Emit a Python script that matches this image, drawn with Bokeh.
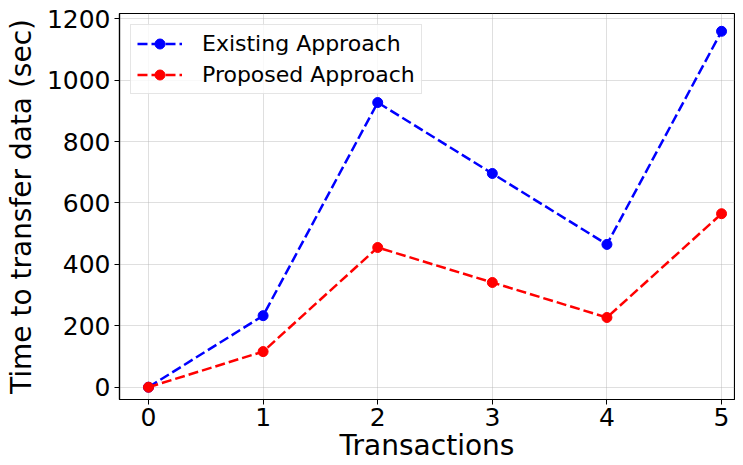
from bokeh.plotting import figure
from bokeh.models import Range1d, FixedTicker
from bokeh.embed import file_html
from bokeh.resources import INLINE

transactions = [0, 1, 2, 3, 4, 5]
existing = [0, 233, 927, 696, 465, 1159]
proposed = [0, 116, 455, 341, 227, 565]
x_ticks = [0, 1, 2, 3, 4, 5]
y_ticks = [0, 200, 400, 600, 800, 1000, 1200]

FONT = "DejaVu Sans"

p = figure(output_backend="svg", toolbar_location=None,
           frame_width=615, frame_height=386,
           min_border_left=119, min_border_right=1, min_border_top=13, min_border_bottom=58,
           x_range=Range1d(-0.253, 5.113), y_range=Range1d(-40, 1217))
p.width = 735
p.height = 457

p.line(transactions, existing, line_color="blue", line_width=2.5, line_dash="10 4",
       legend_label="Existing Approach")
p.scatter(transactions, existing, marker="circle", size=10, fill_color="blue",
          line_color="blue", legend_label="Existing Approach")
p.line(transactions, proposed, line_color="red", line_width=2.5, line_dash="10 4",
       legend_label="Proposed Approach")
p.scatter(transactions, proposed, marker="circle", size=10, fill_color="red",
          line_color="red", legend_label="Proposed Approach")

p.xaxis.ticker = FixedTicker(ticks=x_ticks)
p.yaxis.ticker = FixedTicker(ticks=y_ticks)
for ax in (p.xaxis[0], p.yaxis[0]):
    ax.major_label_text_font = FONT
    ax.major_label_text_font_size = "25px"
    ax.major_label_text_color = "black"
    ax.axis_label_text_font = FONT
    ax.axis_label_text_font_size = "28px"
    ax.axis_label_text_font_style = "normal"
    ax.axis_label_text_color = "black"
    ax.axis_line_color = "black"
    ax.axis_line_width = 1.2
    ax.major_tick_line_color = "black"
    ax.major_tick_out = 5
    ax.major_tick_in = 0
    ax.minor_tick_line_color = None
p.xaxis.axis_label = "Transactions"
p.yaxis.axis_label = "Time to transfer data (sec)"
p.xaxis.major_label_standoff = 3
p.yaxis.major_label_standoff = 4
p.xaxis.axis_label_standoff = 0
p.yaxis.axis_label_standoff = 6

p.grid.grid_line_color = "#b0b0b0"
p.grid.grid_line_alpha = 0.5
p.grid.grid_line_width = 0.8
p.outline_line_color = "black"
p.outline_line_width = 1.2
p.background_fill_color = "white"
p.border_fill_color = "white"

p.legend.location = "top_left"
p.legend.margin = 11
p.legend.label_text_font = FONT
p.legend.label_text_font_size = "22px"
p.legend.label_text_color = "black"
p.legend.glyph_width = 45
p.legend.glyph_height = 25
p.legend.label_standoff = 20
p.legend.spacing = 6
p.legend.padding = 6
p.legend.border_line_color = "#cccccc"
p.legend.border_line_width = 1
p.legend.background_fill_alpha = 0.8

open("out.html", "w").write(file_html(p, INLINE))
